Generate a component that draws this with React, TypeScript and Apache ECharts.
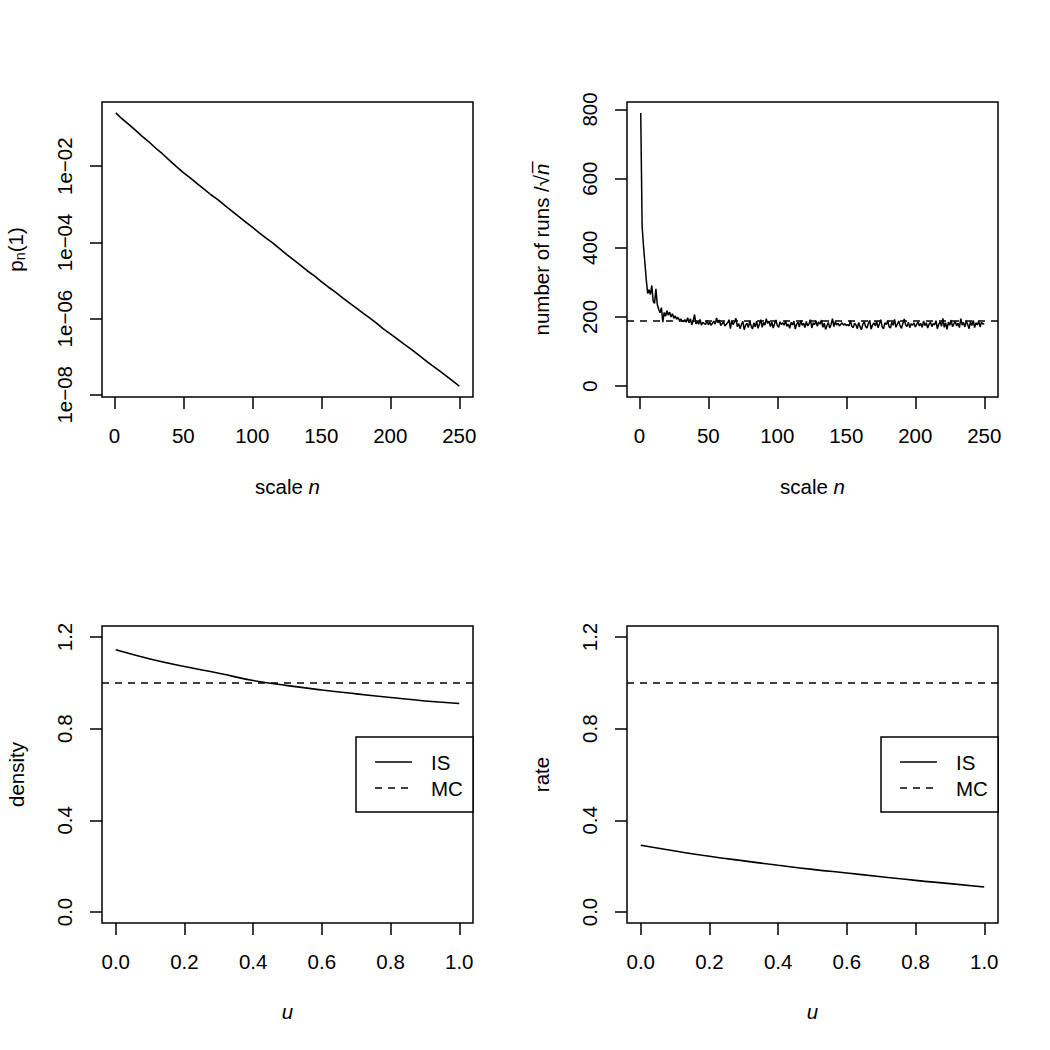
import React, { useEffect, useRef } from "react";
import * as echarts from "echarts";

// ---- data -------------------------------------------------------------

// p_n(1) against scale n (stored as log10 of the probability)
const scaleN: number[] = [
  1, 5, 10, 15, 20, 25, 30, 35, 40, 45, 50, 55, 60, 65, 70, 75, 80, 85, 90, 95,
  100, 105, 110, 115, 120, 125, 130, 135, 140, 145, 150, 155, 160, 165, 170,
  175, 180, 185, 190, 195, 200, 205, 210, 215, 220, 225, 230, 235, 240, 245, 250,
];
const log10Pn: number[] = [
  -0.603, -0.74, -0.89, -1.05, -1.21, -1.36, -1.53, -1.68, -1.85, -2.01, -2.17,
  -2.31, -2.46, -2.6, -2.75, -2.88, -3.03, -3.17, -3.32, -3.46, -3.6, -3.75,
  -3.89, -4.02, -4.17, -4.32, -4.46, -4.6, -4.75, -4.88, -5.03, -5.17, -5.3,
  -5.44, -5.58, -5.71, -5.85, -5.98, -6.12, -6.27, -6.4, -6.53, -6.67, -6.8,
  -6.94, -7.08, -7.22, -7.35, -7.49, -7.63, -7.77,
];

// number of runs / sqrt(n) for n = 1 .. 250
const runsPerSqrtN: number[] = [
  790, 462, 405, 357, 308, 268, 279, 265, 291, 246,
  239, 281, 236, 222, 212, 227, 185, 213, 202, 218,
  205, 214, 200, 209, 196, 203, 193, 199, 190, 194,
  188, 187, 192, 185, 198, 183, 195, 177, 188, 207,
  180, 186, 179, 193, 176, 184, 181, 178, 190, 177,
  185, 176, 182, 188, 179, 197, 183, 191, 175, 181,
  186, 174, 179, 183, 192, 166, 189, 178, 185, 196,
  172, 181, 166, 178, 187, 163, 176, 182, 169, 188,
  174, 165, 183, 171, 188, 167, 179, 192, 170, 184,
  176, 195, 181, 188, 172, 185, 168, 180, 191, 175,
  170, 186, 178, 183, 176, 189, 173, 179, 167, 184,
  177, 188, 165, 179, 185, 171, 190, 176, 182, 169,
  187, 174, 180, 192, 168, 183, 177, 189, 173, 186,
  179, 191, 170, 182, 164, 175, 184, 168, 178, 195,
  172, 186, 177, 181, 174, 179, 183, 176, 180, 175,
  178, 174, 189, 173, 169, 182, 177, 166, 184, 171,
  163, 179, 186, 172, 168, 181, 190, 165, 176, 183,
  174, 187, 169, 180, 192, 171, 166, 183, 178, 189,
  172, 168, 185, 176, 193, 170, 179, 188, 174, 167,
  181, 194, 177, 172, 185, 169, 180, 176, 183, 171,
  178, 186, 174, 181, 170, 188, 175, 183, 168, 179,
  185, 172, 181, 177, 189, 166, 179, 186, 173, 196,
  170, 183, 164, 185, 176, 191, 172, 180, 187, 174,
  182, 169, 195, 176, 184, 171, 188, 178, 166, 186,
  175, 190, 169, 183, 177, 188, 171, 185, 179, 181,
];
const runsReference = 190;

// tilting parameter u
const uValues: number[] = [0, 0.1, 0.2, 0.3, 0.4, 0.5, 0.6, 0.7, 0.8, 0.9, 1.0];
const densityIS: number[] = [1.144, 1.104, 1.071, 1.042, 1.01, 0.988, 0.969, 0.952, 0.936, 0.921, 0.91];
const rateIS: number[] = [0.291, 0.266, 0.243, 0.223, 0.204, 0.186, 0.17, 0.154, 0.138, 0.124, 0.109];
const mcLevel = 1.0;

// tick positions
const nTicks = [0, 50, 100, 150, 200, 250];
const pTicks = [1e-2, 1e-4, 1e-6, 1e-8];
const runTicks = [0, 200, 400, 600, 800];
const uTicks = [0, 0.2, 0.4, 0.6, 0.8, 1.0];
const unitTicks = [0, 0.4, 0.8, 1.2];
const legendLabels = ["IS", "MC"];

// ---- styling helpers --------------------------------------------------

const FONT = "'Liberation Sans', Arial, Helvetica, sans-serif";
const FS = 20.5;
const INK = "#000";
const DASH = [7, 6];

// R-style padded range (4% on each side)
const padRange = (lo: number, hi: number): [number, number] => {
  const r = hi - lo;
  return [lo - 0.04 * r, hi + 0.04 * r];
};

const boxes = [
  { left: 102, top: 102, width: 371, height: 295 },
  { left: 627, top: 102, width: 371, height: 295 },
  { left: 102, top: 626, width: 371, height: 297 },
  { left: 627, top: 626, width: 371, height: 297 },
];

const labelStyle = {
  color: INK,
  fontSize: FS,
  fontFamily: FONT,
};

// ticks sit on the frame edge and point outward
const tickStyle = (ticks: number[]) => ({
  show: true,
  inside: false,
  length: 12,
  customValues: ticks,
  lineStyle: { color: INK, width: 1.5 },
});
const edgeLine = { show: false, onZero: false };

function xAxis(gridIndex: number, range: [number, number], ticks: number[], fmt: (v: number) => string) {
  return {
    type: "value",
    gridIndex,
    position: "bottom",
    min: range[0],
    max: range[1],
    axisLine: edgeLine,
    splitLine: { show: false },
    axisTick: tickStyle(ticks),
    axisLabel: { ...labelStyle, margin: 28, customValues: ticks, formatter: fmt },
  };
}

function yAxis(gridIndex: number, type: string, range: [number, number], ticks: number[], fmt: (v: number) => string) {
  return {
    type,
    ...(type === "log" ? { logBase: 10 } : {}),
    gridIndex,
    position: "left",
    min: range[0],
    max: range[1],
    axisLine: edgeLine,
    splitLine: { show: false },
    axisTick: tickStyle(ticks),
    axisLabel: { ...labelStyle, margin: 27, rotate: 90, customValues: ticks, formatter: fmt },
  };
}

const intFmt = (v: number) => String(Math.round(v));
const dec1Fmt = (v: number) => v.toFixed(1);
const sciFmt = (v: number) => {
  const e = Math.round(Math.log10(v));
  return "1e" + (e < 0 ? "\u2212" : "+") + String(Math.abs(e)).padStart(2, "0");
};

function yTitle(x: number, y: number, text: string, rich?: any) {
  return {
    type: "text",
    x,
    y,
    rotation: Math.PI / 2,
    style: {
      text,
      fill: INK,
      font: `${FS}px ${FONT}`,
      align: "center",
      verticalAlign: "middle",
      ...(rich ? { rich } : {}),
    },
  };
}

function xTitle(x: number, y: number, text: string, rich?: any) {
  return {
    type: "text",
    x,
    y,
    style: {
      text,
      fill: INK,
      font: `${FS}px ${FONT}`,
      align: "center",
      verticalAlign: "middle",
      ...(rich ? { rich } : {}),
    },
  };
}

const richBase = { fontSize: FS, fontFamily: FONT, fill: INK, color: INK };
const richItalic = { ...richBase, fontStyle: "italic" };

function legendBox(left: number, right: number) {
  const top = 737;
  const bottom = 812;
  const lineX0 = left + 19;
  const lineX1 = left + 56;
  const textX = left + 75;
  const rowY = [762, 788];
  return {
    type: "group",
    children: [
      {
        type: "rect",
        shape: { x: left, y: top, width: right - left, height: bottom - top },
        style: { fill: "#fff", stroke: INK, lineWidth: 1.5 },
      },
      {
        type: "line",
        shape: { x1: lineX0, y1: rowY[0], x2: lineX1, y2: rowY[0] },
        style: { stroke: INK, lineWidth: 1.6 },
      },
      {
        type: "line",
        shape: { x1: lineX0, y1: rowY[1], x2: lineX1, y2: rowY[1] },
        style: { stroke: INK, lineWidth: 1.6, lineDash: DASH },
      },
      ...legendLabels.map((t, i) => ({
        type: "text",
        x: textX,
        y: rowY[i],
        style: { text: t, fill: INK, font: `${FS}px ${FONT}`, align: "left", verticalAlign: "middle" },
      })),
    ],
  };
}

// ---- option -----------------------------------------------------------

function buildOption() {
  const nRange = padRange(1, 250);
  const pMinLog = Math.min(...log10Pn);
  const pMaxLog = Math.max(...log10Pn);
  const pLogRange = padRange(pMinLog, pMaxLog);
  const pRange: [number, number] = [Math.pow(10, pLogRange[0]), Math.pow(10, pLogRange[1])];
  const runRange = padRange(0, Math.max(...runsPerSqrtN));
  const uRange = padRange(0, 1);
  const unitRange = padRange(0, 1.2);

  const solid = { color: INK, width: 1.6 };
  const dashedMark = (value: number) => ({
    silent: true,
    symbol: "none",
    label: { show: false },
    lineStyle: { color: INK, width: 1.5, type: DASH },
    data: [{ yAxis: value }],
  });

  return {
    animation: false,
    backgroundColor: "#fff",
    grid: boxes.map((b) => ({
      ...b,
      show: true,
      borderColor: INK,
      borderWidth: 1.5,
      backgroundColor: "transparent",
      containLabel: false,
    })),
    xAxis: [
      xAxis(0, nRange, nTicks, intFmt),
      xAxis(1, nRange, nTicks, intFmt),
      xAxis(2, uRange, uTicks, dec1Fmt),
      xAxis(3, uRange, uTicks, dec1Fmt),
    ],
    yAxis: [
      yAxis(0, "log", pRange, pTicks, sciFmt),
      yAxis(1, "value", runRange, runTicks, intFmt),
      yAxis(2, "value", unitRange, unitTicks, dec1Fmt),
      yAxis(3, "value", unitRange, unitTicks, dec1Fmt),
    ],
    series: [
      {
        name: "pn",
        type: "line",
        xAxisIndex: 0,
        yAxisIndex: 0,
        showSymbol: false,
        lineStyle: solid,
        itemStyle: { color: INK },
        data: scaleN.map((n, i) => [n, Math.pow(10, log10Pn[i])]),
      },
      {
        name: "runs",
        type: "line",
        xAxisIndex: 1,
        yAxisIndex: 1,
        showSymbol: false,
        lineStyle: { color: INK, width: 1.5 },
        itemStyle: { color: INK },
        data: runsPerSqrtN.map((v, i) => [i + 1, v]),
        markLine: dashedMark(runsReference),
      },
      {
        name: "IS",
        type: "line",
        xAxisIndex: 2,
        yAxisIndex: 2,
        showSymbol: false,
        smooth: true,
        lineStyle: solid,
        itemStyle: { color: INK },
        data: uValues.map((u, i) => [u, densityIS[i]]),
        markLine: dashedMark(mcLevel),
      },
      {
        name: "IS rate",
        type: "line",
        xAxisIndex: 3,
        yAxisIndex: 3,
        showSymbol: false,
        smooth: true,
        lineStyle: solid,
        itemStyle: { color: INK },
        data: uValues.map((u, i) => [u, rateIS[i]]),
        markLine: dashedMark(mcLevel),
      },
    ],
    graphic: [
      // axis titles
      yTitle(15, 249.5, "{a|p}{s|n}{a|(1)}", {
        a: richBase,
        s: { ...richBase, fontSize: 14.5, padding: [9, 0, 0, 0] },
      }),
      yTitle(541, 249.5, "{a|number of runs /\u221A}{i|n\u0305}", { a: richBase, i: richItalic }),
      yTitle(16, 774.5, "density"),
      yTitle(541, 774.5, "rate"),
      xTitle(287.5, 486, "{a|scale\u00A0}{i|n}", { a: richBase, i: richItalic }),
      xTitle(812.5, 486, "{a|scale\u00A0}{i|n}", { a: richBase, i: richItalic }),
      xTitle(287.5, 1011, "{i|u}", { i: richItalic }),
      xTitle(812.5, 1011, "{i|u}", { i: richItalic }),
      // legends
      legendBox(356, 473),
      legendBox(881, 998),
    ],
  };
}

export default function App() {
  const ref = useRef<HTMLDivElement>(null);
  useEffect(() => {
    if (!ref.current) return;
    const chart = echarts.init(ref.current, null, { renderer: "svg", width: 1050, height: 1050 });
    chart.setOption(buildOption() as any);
    return () => chart.dispose();
  }, []);
  return (
    <div
      ref={ref}
      style={{ position: "absolute", left: 0, top: 0, width: 1050, height: 1050, background: "#fff" }}
    />
  );
}
